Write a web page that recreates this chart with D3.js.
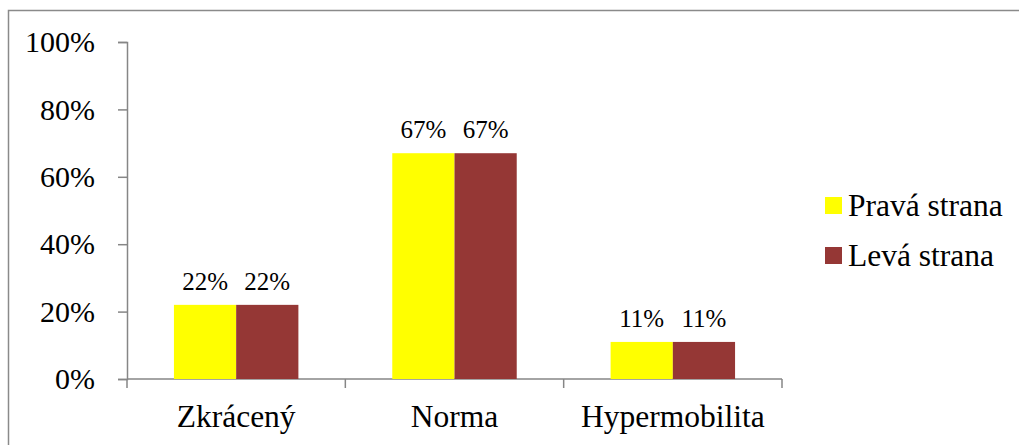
<!DOCTYPE html>
<html>
<head>
<meta charset="utf-8">
<script src="https://cdn.jsdelivr.net/npm/d3@7"></script>
<style>
  html, body { margin: 0; padding: 0; background: #fff; }
  svg { display: block; }
  svg text { font-family: "Liberation Serif", "Times New Roman", serif !important; fill: #000; }
</style>
</head>
<body>
<svg id="chart" width="1019" height="445"></svg>
<script>
// Data
const categories = ["Zkrácený", "Norma", "Hypermobilita"];
const seriesNames = ["Pravá strana", "Levá strana"];
const pravaValues = [22, 67, 11];
const levaValues = [22, 67, 11];
const yTicks = [0, 20, 40, 60, 80, 100];
const seriesColors = ["#FFFF00", "#953735"];

const serif = '"Liberation Serif", "Times New Roman", serif';
const svg = d3.select("#chart");

// Outer frame (right and bottom edges fall outside the canvas)
svg.append("rect")
  .attr("x", 8.5).attr("y", 10.5)
  .attr("width", 1040).attr("height", 460)
  .attr("fill", "none")
  .attr("stroke", "#8a8a8a")
  .attr("stroke-width", 1.5);

const plot = { left: 127, right: 782, top: 42, bottom: 379 };

const x = d3.scaleBand()
  .domain(categories)
  .range([plot.left, plot.right])
  .paddingInner(0.43)
  .paddingOuter(0.215);

const x1 = d3.scaleBand()
  .domain(seriesNames)
  .range([0, x.bandwidth()]);

const y = d3.scaleLinear()
  .domain([0, 100])
  .range([plot.bottom, plot.top]);

const axisColor = "#868686";

// Y axis
const yAxis = svg.append("g")
  .attr("transform", `translate(${plot.left},0)`)
  .attr("font-family", serif)
  .call(d3.axisLeft(y).tickValues(yTicks).tickFormat(d => d + "%").tickSize(9).tickPadding(23));
yAxis.attr("font-family", serif).attr("font-size", 30);
yAxis.selectAll("path, line").attr("stroke", axisColor).attr("stroke-width", 1.5);
yAxis.selectAll("text").attr("fill", "#000");

// X axis with tick marks between categories
const xAxisG = svg.append("g")
  .attr("transform", `translate(0,${plot.bottom})`)
  .attr("font-family", serif);
xAxisG.append("line")
  .attr("x1", plot.left).attr("x2", plot.right)
  .attr("y1", 0).attr("y2", 0)
  .attr("stroke", axisColor).attr("stroke-width", 1.5);
const step = (plot.right - plot.left) / categories.length;
d3.range(categories.length + 1).forEach(i => {
  xAxisG.append("line")
    .attr("x1", plot.left + i * step).attr("x2", plot.left + i * step)
    .attr("y1", 0).attr("y2", 9)
    .attr("stroke", axisColor).attr("stroke-width", 1.5);
});
xAxisG.selectAll("text.cat")
  .data(categories)
  .join("text")
  .attr("class", "cat")
  .attr("x", d => x(d) + x.bandwidth() / 2)
  .attr("y", 48)
  .attr("text-anchor", "middle")
  .attr("font-size", 31.5)
  .text(d => d);

// Bars
const rows = categories.map((c, i) => ({
  category: c,
  values: [
    { series: seriesNames[0], value: pravaValues[i], color: seriesColors[0] },
    { series: seriesNames[1], value: levaValues[i], color: seriesColors[1] }
  ]
}));

const groups = svg.append("g")
  .attr("font-family", serif)
  .selectAll("g")
  .data(rows)
  .join("g")
  .attr("transform", d => `translate(${x(d.category)},0)`);

groups.selectAll("rect")
  .data(d => d.values)
  .join("rect")
  .attr("x", d => x1(d.series))
  .attr("y", d => y(d.value))
  .attr("width", x1.bandwidth())
  .attr("height", d => y(0) - y(d.value))
  .attr("fill", d => d.color);

groups.selectAll("text")
  .data(d => d.values)
  .join("text")
  .attr("x", d => x1(d.series) + x1.bandwidth() / 2)
  .attr("y", d => y(d.value) - 15)
  .attr("text-anchor", "middle")
  .attr("font-size", 25)
  .text(d => d.value + "%");

// Legend
const legend = svg.append("g")
  .attr("transform", "translate(825,197)")
  .attr("font-family", serif);
const items = legend.selectAll("g")
  .data(seriesNames)
  .join("g")
  .attr("transform", (d, i) => `translate(0,${i * 50})`);
items.append("rect")
  .attr("width", 17).attr("height", 17)
  .attr("fill", (d, i) => seriesColors[i]);
items.append("text")
  .attr("x", 23).attr("y", 19)
  .attr("font-size", 31.5)
  .text(d => d);
</script>
</body>
</html>
